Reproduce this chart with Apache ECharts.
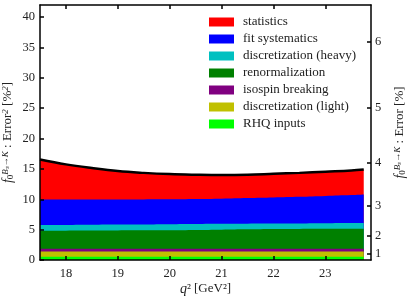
<!DOCTYPE html>
<html>
<head>
<meta charset="utf-8">
<script src="https://cdn.jsdelivr.net/npm/echarts@6/dist/echarts.min.js"></script>
<style>html,body{margin:0;padding:0;background:#fff}#c{width:407px;height:300px}</style>
</head>
<body>
<div id="c"></div>
<script>
var q2 = [17.5,18,18.5,19,19.5,20,20.5,21,21.5,22,22.5,23,23.5,23.74];
var rhqInputs   = [0.55,0.55,0.55,0.55,0.55,0.55,0.55,0.55,0.55,0.55,0.55,0.55,0.55,0.55];
var discLight   = [0.83,0.83,0.83,0.83,0.83,0.83,0.83,0.83,0.83,0.83,0.83,0.83,0.83,0.83];
var isospin     = [0.47,0.47,0.47,0.47,0.47,0.47,0.47,0.47,0.47,0.47,0.47,0.47,0.47,0.47];
var renorm      = [2.97,2.98,2.99,3.01,3.03,3.05,3.10,3.15,3.20,3.25,3.27,3.28,3.30,3.30];
var discHeavy   = [0.93,0.94,0.96,0.97,0.98,1.00,0.98,0.96,0.93,0.90,0.91,0.93,0.94,0.95];
var fitSys      = [4.20,4.18,4.15,4.14,4.12,4.10,4.12,4.14,4.22,4.30,4.37,4.49,4.61,4.70];
var statistics  = [6.60,5.80,5.20,4.68,4.37,4.15,4.00,3.90,3.85,3.90,3.95,4.00,4.05,4.10];

var xTicks = [18,19,20,21,22,23];
var yTicks = [0,5,10,15,20,25,30,35,40];
var errTicks = [1,2,3,4,5,6];

var names = ['statistics','fit systematics','discretization (heavy)','renormalization','isospin breaking','discretization (light)','RHQ inputs'];

var font = 'Liberation Serif';
// bottom-to-top stacking order
var stackOrder = [
  ['RHQ inputs', rhqInputs, '#00ff00'],
  ['discretization (light)', discLight, '#c0c000'],
  ['isospin breaking', isospin, '#800080'],
  ['renormalization', renorm, '#008000'],
  ['discretization (heavy)', discHeavy, '#00c0c0'],
  ['fit systematics', fitSys, '#0000ff'],
  ['statistics', statistics, '#ff0000']
];
var running = q2.map(function(){ return 0; });
var cum = stackOrder.map(function(s){
  running = running.map(function(v, i){ return v + s[1][i]; });
  return running.slice();
});
var series = [];
for (var k = stackOrder.length - 1; k >= 0; k--) {
  var s = stackOrder[k];
  series.push({
    name: s[0], type: 'line',
    data: q2.map(function(x, i){ return [x, cum[k][i]]; }),
    symbol: 'none', smooth: 0.4,
    z: 2 + (stackOrder.length - k),
    itemStyle: {color: s[2]},
    lineStyle: {width: 0, color: s[2]},
    areaStyle: {color: s[2], opacity: 1, origin: 'start'},
    emphasis: {disabled: true}
  });
}
// total error (top of stack) as a black line
series.push({
  name: 'total', type: 'line',
  data: q2.map(function(x, i){ return [x, cum[cum.length - 1][i]]; }),
  symbol: 'none', smooth: 0.4, z: 20,
  lineStyle: {color: '#000', width: 2.5},
  itemStyle: {color: '#000'},
  emphasis: {disabled: true}
});

var nameRich = {
  n: {fontFamily: font, fontSize: 13, color: '#222'},
  i: {fontFamily: font, fontSize: 14, fontStyle: 'italic', color: '#222'},
  sub: {fontFamily: font, fontSize: 9, color: '#222', verticalAlign: 'bottom', padding:[4,0,0,0]},
  sup: {fontFamily: font, fontSize: 9, color: '#222', fontStyle: 'italic', verticalAlign: 'top', padding:[0,0,4,0]}
};

var chart = echarts.init(document.getElementById('c'), null, {renderer: 'canvas'});
chart.setOption({
  animation: false,
  grid: {left: 40, right: 36, top: 5, bottom: 40, containLabel: false, outerBoundsMode: 'none'},
  legend: {
    data: names, orient: 'vertical', left: 204, top: 10, z: 30,
    itemWidth: 25, itemHeight: 9, itemGap: 3, icon: 'rect',
    textStyle: {fontFamily: font, fontSize: 13, color: '#222', lineHeight: 14, padding: [0,0,0,4]},
    selectedMode: false
  },
  xAxis: [{
    type: 'value', min: 17.5, max: 23.88, position: 'bottom',
    name: '{i|q}{n|² [GeV²]}', nameLocation: 'middle', nameGap: 22, nameMoveOverlap: false,
    nameTextStyle: {rich: nameRich},
    axisLine: {lineStyle: {color: '#000', width: 1.5}, onZero: false},
    axisTick: {inside: true, length: 4, customValues: xTicks, lineStyle: {color: '#000', width: 1.5}},
    axisLabel: {customValues: xTicks, fontFamily: font, fontSize: 12.5, color: '#222', margin: 7},
    splitLine: {show: false}, z: 25
  },{
    type: 'value', min: 17.5, max: 23.88, position: 'top',
    axisLine: {lineStyle: {color: '#000', width: 1.5}, onZero: false},
    axisTick: {inside: true, length: 4, customValues: xTicks, lineStyle: {color: '#000', width: 1.5}},
    axisLabel: {show: false}, splitLine: {show: false}, z: 25
  }],
  yAxis: [{
    type: 'value', min: 0, max: 42, position: 'left',
    name: '{i|f}{sub|0}{sup|Bₛ→K}{n| : Error}{sup|2}{n| [%}{sup|2}{n|]}',
    nameLocation: 'middle', nameGap: 25, nameRotate: 90, nameMoveOverlap: false,
    nameTextStyle: {rich: nameRich},
    axisLine: {lineStyle: {color: '#000', width: 1.5}, onZero: false},
    axisTick: {inside: true, length: 4, customValues: yTicks, lineStyle: {color: '#000', width: 1.5}},
    axisLabel: {customValues: yTicks, fontFamily: font, fontSize: 12.5, color: '#222', margin: 5},
    splitLine: {show: false}, z: 25
  },{
    type: 'value', min: 0, max: 42, position: 'right',
    name: '{i|f}{sub|0}{sup|Bₛ→K}{n| : Error [%]}',
    nameLocation: 'middle', nameGap: 22, nameRotate: 90, nameMoveOverlap: false,
    nameTextStyle: {rich: nameRich},
    axisLine: {lineStyle: {color: '#000', width: 1.5}, onZero: false},
    axisTick: {inside: true, length: 4, customValues: errTicks.map(function(v){return v*v;}), lineStyle: {color: '#000', width: 1.5}},
    axisLabel: {customValues: errTicks.map(function(v){return v*v;}), formatter: function(v){ return String(Math.round(Math.sqrt(v))); }, fontFamily: font, fontSize: 12.5, color: '#222', margin: 4},
    splitLine: {show: false}, z: 25
  }],
  series: series
});
</script>
</body>
</html>
